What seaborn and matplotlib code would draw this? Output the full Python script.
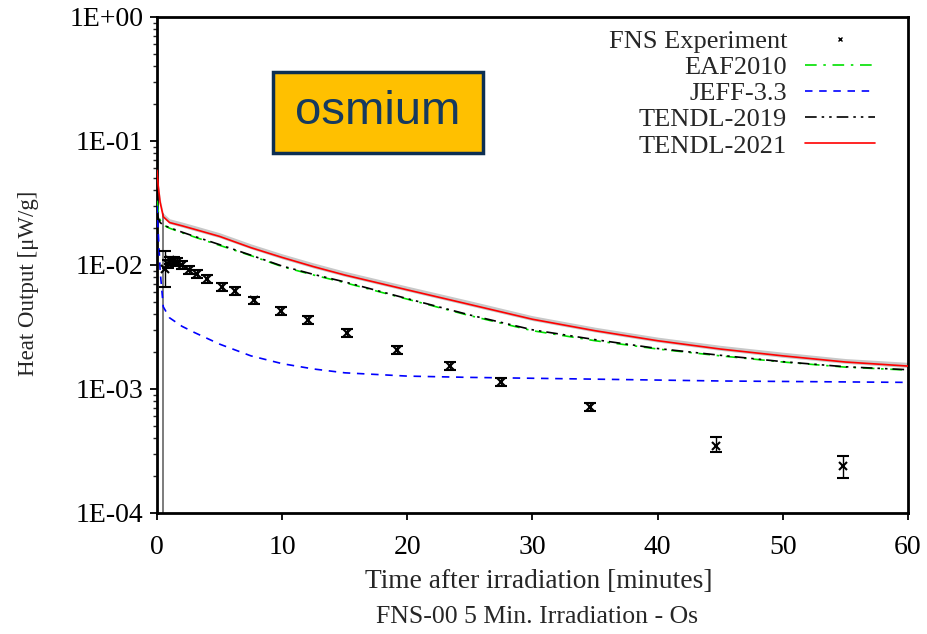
import numpy as np
import pandas as pd
import matplotlib
matplotlib.use("Agg")
import matplotlib.pyplot as plt
from matplotlib.lines import Line2D
from matplotlib.patches import Rectangle
import seaborn as sns

# ---------------- data ----------------
t_grid = [0, 0.1, 0.25, 0.5, 1, 2, 3, 5, 7.5, 10, 12.5, 15, 20, 25, 30, 35, 40, 45, 50, 55, 60]

tendl2021 = [5.8e-2, 4.3e-2, 3.2e-2, 2.45e-2, 2.2e-2, 2.07e-2, 1.94e-2, 1.7e-2, 1.38e-2, 1.15e-2,
             9.7e-3, 8.3e-3, 6.3e-3, 4.8e-3, 3.65e-3, 2.95e-3, 2.45e-3, 2.1e-3, 1.85e-3, 1.65e-3, 1.53e-3]
band_hi = [6.2e-2, 4.6e-2, 3.45e-2, 2.62e-2, 2.36e-2, 2.22e-2, 2.08e-2, 1.82e-2, 1.48e-2, 1.23e-2,
           1.04e-2, 8.9e-3, 6.75e-3, 5.15e-3, 3.9e-3, 3.15e-3, 2.62e-3, 2.25e-3, 1.98e-3, 1.76e-3, 1.64e-3]
band_lo = [5.65e-2, 4.2e-2, 3.12e-2, 2.39e-2, 2.15e-2, 2.02e-2, 1.89e-2, 1.66e-2, 1.35e-2, 1.12e-2,
           9.45e-3, 8.1e-3, 6.15e-3, 4.68e-3, 3.56e-3, 2.88e-3, 2.39e-3, 2.05e-3, 1.8e-3, 1.61e-3, 1.49e-3]

eaf2010 = [3.3e-2, 2.7e-2, 2.3e-2, 2.1e-2, 1.98e-2, 1.82e-2, 1.68e-2, 1.44e-2, 1.19e-2, 9.7e-3,
           8.3e-3, 7.2e-3, 5.3e-3, 3.9e-3, 2.95e-3, 2.45e-3, 2.1e-3, 1.85e-3, 1.65e-3, 1.5e-3, 1.42e-3]
tendl2019 = [2.6e-2, 2.4e-2, 2.2e-2, 2.1e-2, 2.0e-2, 1.84e-2, 1.7e-2, 1.46e-2, 1.2e-2, 9.8e-3,
             8.4e-3, 7.3e-3, 5.35e-3, 3.95e-3, 3.0e-3, 2.5e-3, 2.12e-3, 1.87e-3, 1.66e-3, 1.51e-3, 1.43e-3]
jeff33 = [3.0e-2, 1.8e-2, 9.0e-3, 4.6e-3, 3.75e-3, 3.2e-3, 2.85e-3, 2.3e-3, 1.85e-3, 1.6e-3,
          1.45e-3, 1.35e-3, 1.27e-3, 1.24e-3, 1.22e-3, 1.2e-3, 1.18e-3, 1.16e-3, 1.15e-3, 1.14e-3, 1.13e-3]

drop_t = [0.45, 0.45]
drop_y = [1e-5, 2.6e-2]

exp_t = [0.6, 0.9, 1.05, 1.35, 1.6, 2.0, 2.55, 3.2, 4.0, 5.2, 6.2, 7.75, 9.9, 12.05,
         15.2, 19.2, 23.4, 27.5, 34.6, 44.7, 54.8]
exp_y = [9.3e-3, 1.02e-2, 1.09e-2, 1.08e-2, 1.06e-2, 1.0e-2, 9.1e-3, 8.5e-3, 7.7e-3, 6.65e-3,
         6.2e-3, 5.2e-3, 4.25e-3, 3.6e-3, 2.83e-3, 2.07e-3, 1.53e-3, 1.14e-3, 7.2e-4, 3.47e-4, 2.4e-4]
exp_lo = [2.65e-3, 7e-4, 7.5e-4, 7.5e-4, 7.4e-4, 7e-4, 6.4e-4, 6e-4, 5.4e-4, 4.7e-4,
          4.3e-4, 3.6e-4, 3.0e-4, 2.5e-4, 2.0e-4, 1.45e-4, 1.07e-4, 8e-5, 5e-5, 3.7e-5, 5.0e-5]
exp_hi = [3.7e-3, 7e-4, 7.5e-4, 7.5e-4, 7.4e-4, 7e-4, 6.4e-4, 6e-4, 5.4e-4, 4.7e-4,
          4.3e-4, 3.6e-4, 3.0e-4, 2.5e-4, 2.0e-4, 1.45e-4, 1.07e-4, 8e-5, 5e-5, 6.3e-5, 4.8e-5]

x_ticks = [0, 10, 20, 30, 40, 50, 60]
y_ticks = [1e-4, 1e-3, 1e-2, 1e-1, 1e0]
y_ticklabels = ["1E-04", "1E-03", "1E-02", "1E-01", "1E+00"]

# ---------------- style ----------------
sns.set_style("ticks")
plt.rcParams["font.family"] = ["Liberation Serif", "DejaVu Serif"]

fig = plt.figure(figsize=(9.28, 6.34), dpi=100)
ax = fig.add_axes([0.1692, 0.1909, 0.8092, 0.7823])

df = pd.DataFrame({"t": t_grid, "TENDL-2021": tendl2021, "EAF2010": eaf2010,
                   "TENDL-2019": tendl2019, "JEFF-3.3": jeff33,
                   "hi": band_hi, "lo": band_lo})

ax.fill_between(df["t"], df["lo"], df["hi"], color="#c8c8c8", lw=0, zorder=1)
ax.plot(drop_t, drop_y, color="#666666", lw=1.2, zorder=1)

lw = 1.2
ls_eaf = (0, (7, 4, 1.5, 4))
ls_jeff = (0, (4.5, 4))
ls_t19 = (0, (7, 3, 1.5, 3, 1.5, 3))
sns.lineplot(data=df, x="t", y="EAF2010", ax=ax, color="#00e000", lw=lw,
             linestyle=ls_eaf, estimator=None, zorder=3)
sns.lineplot(data=df, x="t", y="JEFF-3.3", ax=ax, color="#0000ff", lw=lw,
             linestyle=ls_jeff, estimator=None, zorder=3)
sns.lineplot(data=df, x="t", y="TENDL-2019", ax=ax, color="black", lw=lw,
             linestyle=ls_t19, estimator=None, zorder=4)
sns.lineplot(data=df, x="t", y="TENDL-2021", ax=ax, color="#ff0000", lw=lw,
             estimator=None, zorder=5)

ax.errorbar(exp_t, exp_y, yerr=[exp_lo, exp_hi], fmt="x", color="black", ms=5.5,
            mew=1.5, ecolor="black", elinewidth=1.0, capsize=4, capthick=1.3, zorder=6)

ax.set_yscale("log")
ax.set_xlim(0, 60)
ax.set_ylim(1e-4, 1e0)
ax.set_xticks(x_ticks)
ax.set_xticklabels([str(v) for v in x_ticks])
ax.set_yticks(y_ticks)
ax.set_yticklabels(y_ticklabels)
ax.yaxis.set_minor_locator(matplotlib.ticker.LogLocator(base=10, subs=np.arange(2, 10)))
ax.yaxis.set_minor_formatter(matplotlib.ticker.NullFormatter())
ax.tick_params(axis="both", which="major", direction="out", length=5, width=1.3,
               labelsize=20, colors="black")
ax.tick_params(axis="y", which="major", pad=5)
ax.tick_params(axis="x", which="major", pad=11)
ax.tick_params(axis="y", which="minor", direction="out", length=3, width=1.0)
ax.tick_params(top=False, right=False, which="both")
for s in ax.spines.values():
    s.set_linewidth(2.0)
    s.set_color("black")

ax.set_xlabel("Time after irradiation [minutes]", fontsize=19.8)
ax.set_ylabel("Heat Output [μW/g]", fontsize=16.5)
ax.xaxis.set_label_coords((539 - 157) / 751, (513 - 582) / 496)
ax.xaxis.label.set_va("center")
ax.yaxis.set_label_coords((28 - 157) / 751, (513 - 283) / 496)
ax.yaxis.label.set_va("center")
fig.text(537 / 928, 1 - 617 / 634, "FNS-00 5 Min. Irradiation - Os",
         ha="center", va="center", fontsize=18.5)

# osmium box
ax.add_patch(Rectangle((0.1545, 0.7258), 0.2796, 0.1633, transform=ax.transAxes,
                       facecolor="#ffc000", edgecolor="#0d2f52", lw=2.5, zorder=7))
ax.text(0.2943, 0.8085, "osmium", transform=ax.transAxes, ha="center", va="center",
        fontsize=34, color="#163a5e", family="Liberation Sans", zorder=8)

handles = [
    Line2D([], [], marker="x", ls="none", color="black", ms=3.5, mew=1.0),
    Line2D([], [], color="#00e000", lw=lw, linestyle=ls_eaf),
    Line2D([], [], color="#0000ff", lw=lw, linestyle=ls_jeff),
    Line2D([], [], color="black", lw=lw, linestyle=ls_t19),
    Line2D([], [], color="#ff0000", lw=lw),
]
labels = ["FNS Experiment", "EAF2010", "JEFF-3.3", "TENDL-2019", "TENDL-2021"]
leg = ax.legend(handles, labels, loc="upper right", bbox_to_anchor=(0.956, 0.9744),
                frameon=False, markerfirst=False, fontsize=19, handlelength=2.65,
                handletextpad=0.68, labelspacing=0.1, borderpad=0, borderaxespad=0)
leg.set_zorder(9)

fig.savefig("out.png", dpi=100)
